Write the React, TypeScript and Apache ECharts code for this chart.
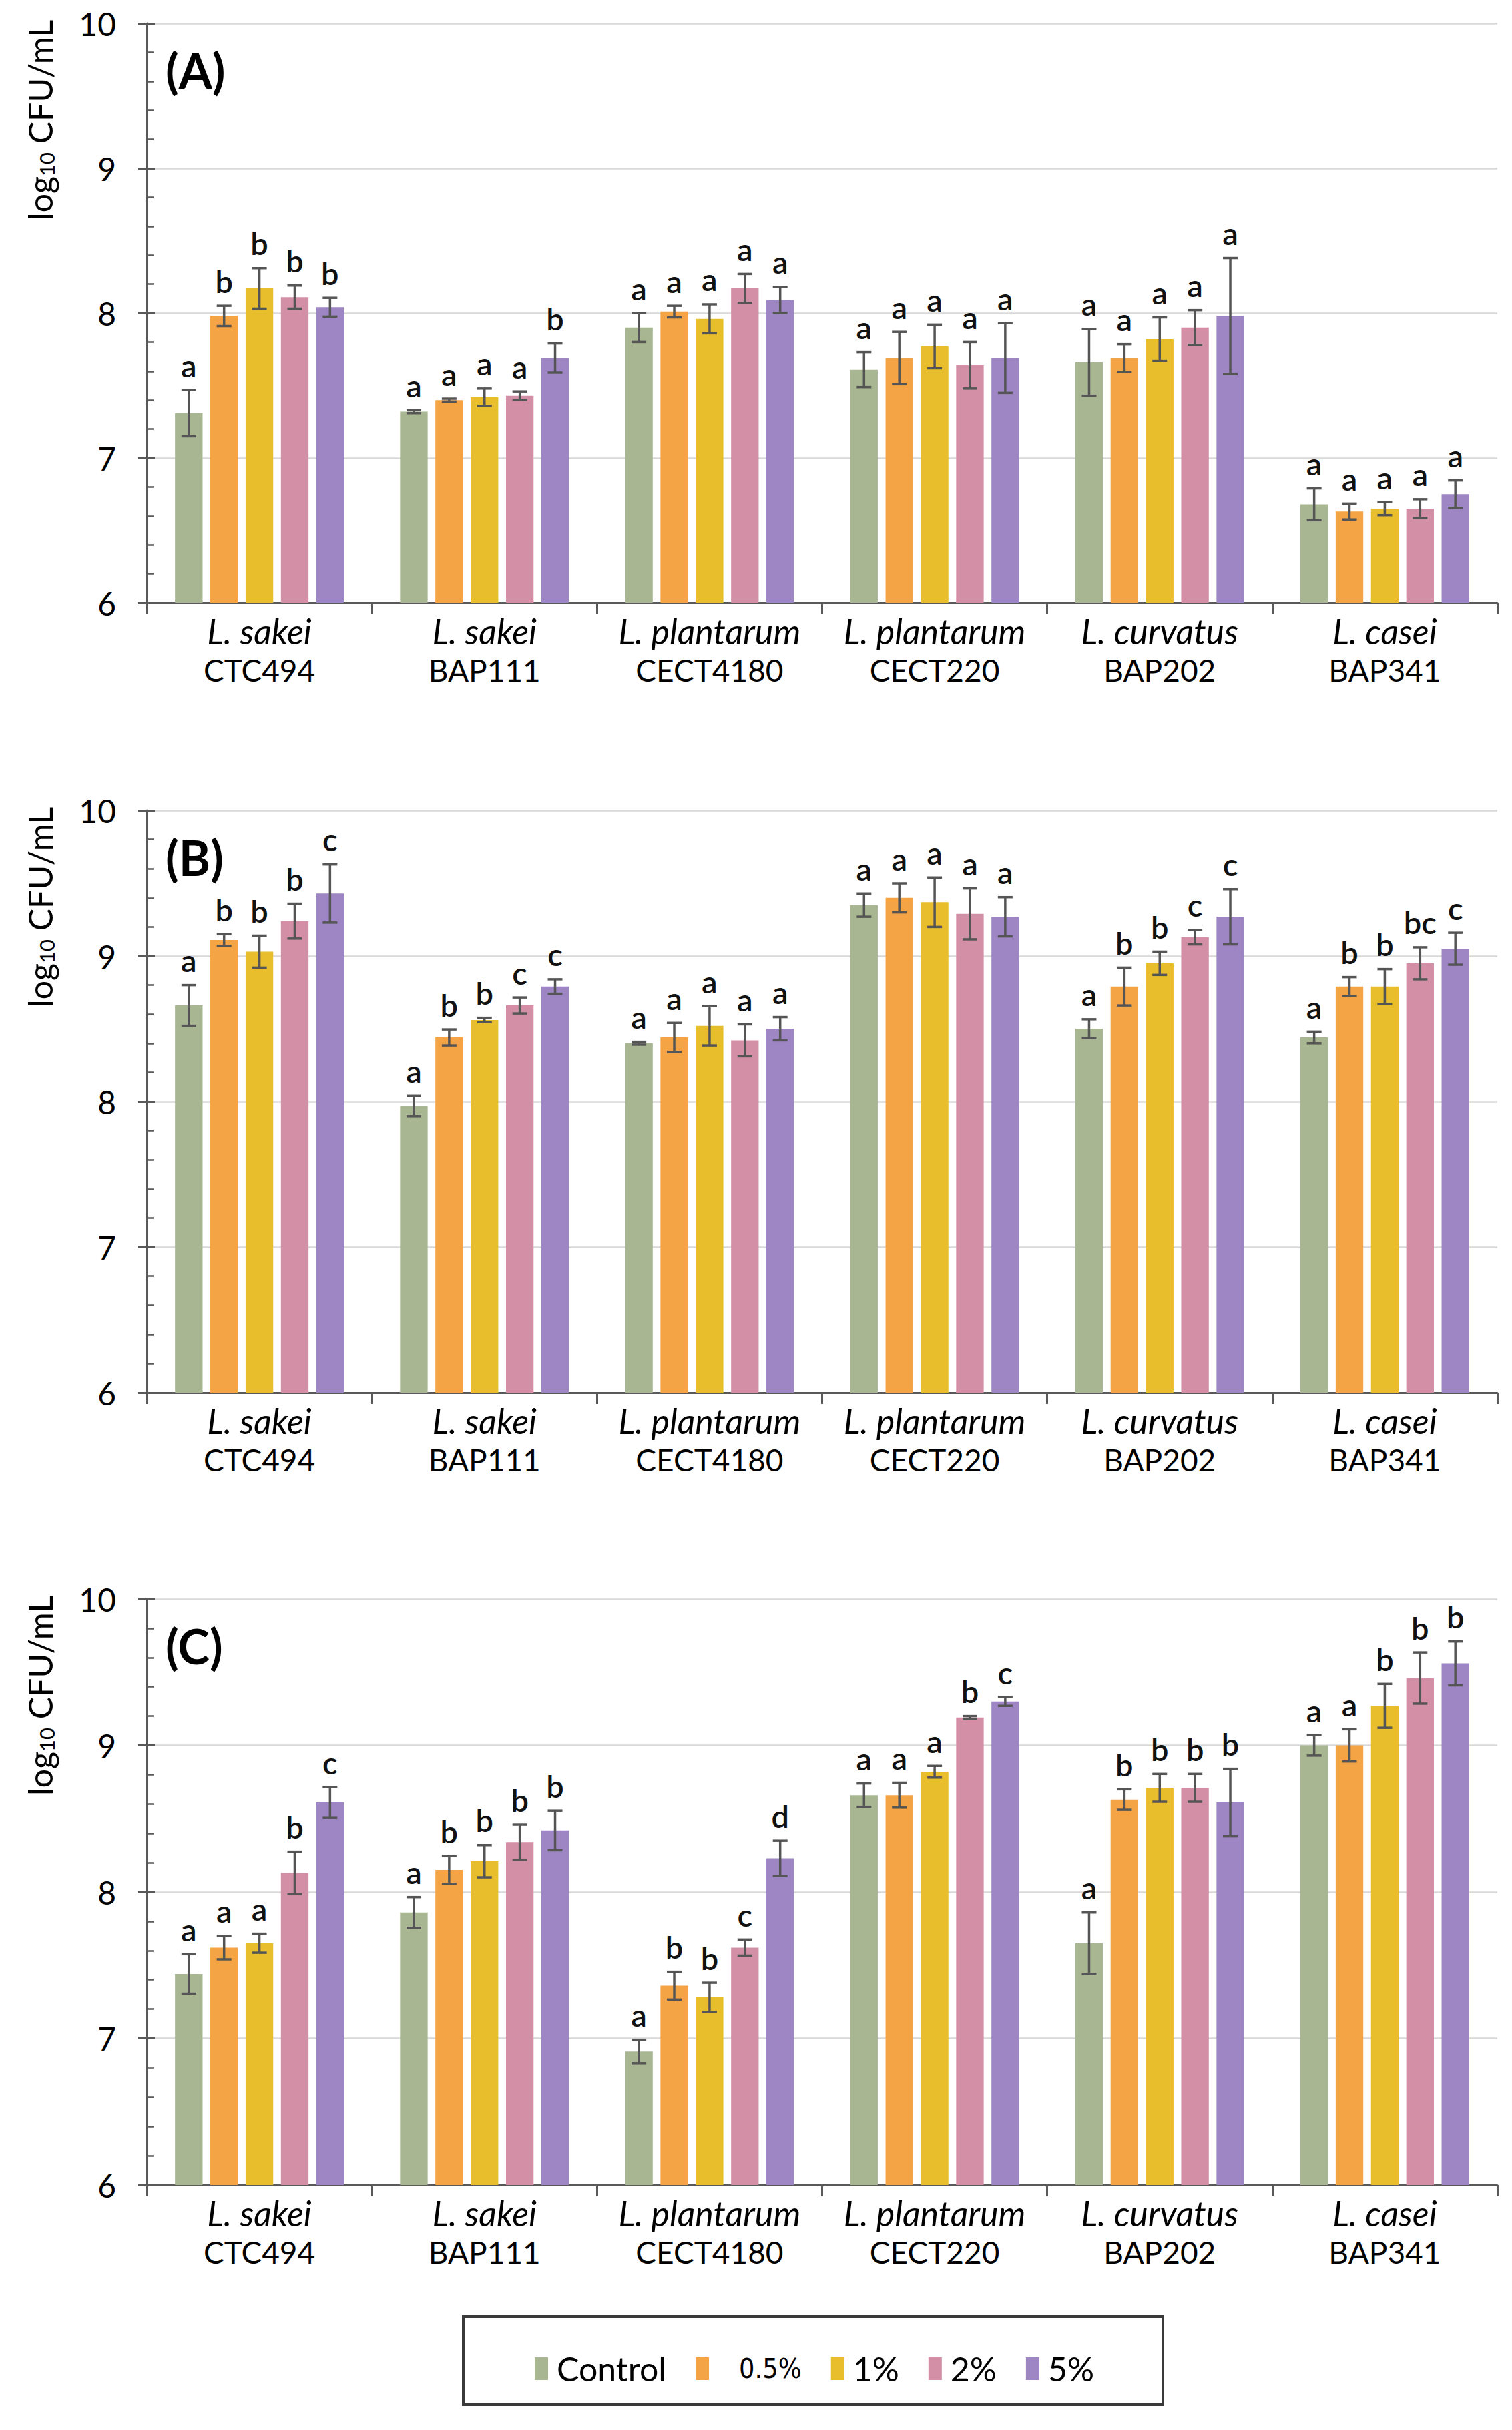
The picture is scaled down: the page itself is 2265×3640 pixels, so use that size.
import React, { useEffect, useRef } from "react";
import * as echarts from "echarts";

const FONT = "Lato, 'Open Sans', sans-serif";
const NARROW_FONT = "'Liberation Sans Narrow', 'DejaVu Sans Condensed', Lato, sans-serif";

const SPECIES = ["L. sakei", "L. sakei", "L. plantarum", "L. plantarum", "L. curvatus", "L. casei"];
const STRAINS = ["CTC494", "BAP111", "CECT4180", "CECT220", "BAP202", "BAP341"];
const TREATMENTS = ["Control", "0.5%", "1%", "2%", "5%"];
const COLORS = ["#A8B792", "#F4A444", "#E8BE2C", "#D38FA6", "#9D86C3"];
const PANEL_LABELS = ["(A)", "(B)", "(C)"];
const Y_TICKS = [6, 7, 8, 9, 10];

// Panel A: rows = treatments, columns = strains
const A_MEANS = [
  [7.31, 7.32, 7.9, 7.61, 7.66, 6.68],
  [7.98, 7.4, 8.01, 7.69, 7.69, 6.63],
  [8.17, 7.42, 7.96, 7.77, 7.82, 6.65],
  [8.11, 7.43, 8.17, 7.64, 7.9, 6.65],
  [8.04, 7.69, 8.09, 7.69, 7.98, 6.75],
];
const A_ERRS = [
  [0.16, 0.01, 0.1, 0.12, 0.23, 0.11],
  [0.07, 0.01, 0.04, 0.18, 0.095, 0.055],
  [0.14, 0.06, 0.1, 0.15, 0.15, 0.045],
  [0.08, 0.03, 0.1, 0.16, 0.12, 0.065],
  [0.065, 0.1, 0.09, 0.24, 0.4, 0.095],
];
const A_LETTERS = [
  ["a", "a", "a", "a", "a", "a"],
  ["b", "a", "a", "a", "a", "a"],
  ["b", "a", "a", "a", "a", "a"],
  ["b", "a", "a", "a", "a", "a"],
  ["b", "b", "a", "a", "a", "a"],
];

// Panel B
const B_MEANS = [
  [8.66, 7.97, 8.4, 9.35, 8.5, 8.44],
  [9.11, 8.44, 8.44, 9.4, 8.79, 8.79],
  [9.03, 8.56, 8.52, 9.37, 8.95, 8.79],
  [9.24, 8.66, 8.42, 9.29, 9.13, 8.95],
  [9.43, 8.79, 8.5, 9.27, 9.27, 9.05],
];
const B_ERRS = [
  [0.14, 0.07, 0.01, 0.08, 0.065, 0.04],
  [0.04, 0.055, 0.1, 0.1, 0.13, 0.065],
  [0.11, 0.015, 0.135, 0.17, 0.08, 0.12],
  [0.12, 0.055, 0.11, 0.175, 0.05, 0.11],
  [0.2, 0.05, 0.08, 0.135, 0.19, 0.11],
];
const B_LETTERS = [
  ["a", "a", "a", "a", "a", "a"],
  ["b", "b", "a", "a", "b", "b"],
  ["b", "b", "a", "a", "b", "b"],
  ["b", "c", "a", "a", "c", "bc"],
  ["c", "c", "a", "a", "c", "c"],
];

// Panel C
const C_MEANS = [
  [7.44, 7.86, 6.91, 8.66, 7.65, 9.0],
  [7.62, 8.15, 7.36, 8.66, 8.63, 9.0],
  [7.65, 8.21, 7.28, 8.82, 8.71, 9.27],
  [8.13, 8.34, 7.62, 9.19, 8.71, 9.46],
  [8.61, 8.42, 8.23, 9.3, 8.61, 9.56],
];
const C_ERRS = [
  [0.135, 0.105, 0.08, 0.08, 0.21, 0.07],
  [0.08, 0.095, 0.095, 0.085, 0.07, 0.11],
  [0.065, 0.11, 0.1, 0.04, 0.095, 0.15],
  [0.145, 0.12, 0.055, 0.01, 0.095, 0.175],
  [0.105, 0.135, 0.12, 0.03, 0.23, 0.15],
];
const C_LETTERS = [
  ["a", "a", "a", "a", "a", "a"],
  ["a", "b", "b", "a", "b", "a"],
  ["a", "b", "b", "a", "b", "b"],
  ["b", "b", "c", "b", "b", "b"],
  ["c", "b", "d", "c", "b", "b"],
];

const PANELS = [
  { means: A_MEANS, errs: A_ERRS, letters: A_LETTERS },
  { means: B_MEANS, errs: B_ERRS, letters: B_LETTERS },
  { means: C_MEANS, errs: C_ERRS, letters: C_LETTERS },
];

const GRIDS = [
  { left: 220, top: 35, width: 2023, height: 868 },
  { left: 220, top: 1214, width: 2023, height: 872 },
  { left: 220, top: 2395, width: 2023, height: 878 },
];

const CAT_GAP = 0.25;
const BAR_GAP = 0.28;
const AXIS_COLOR = "#595959";

function buildOption() {
  const grid = GRIDS.map((g) => ({ ...g, containLabel: false }));
  const xAxis: any[] = [];
  const yAxis: any[] = [];
  const series: any[] = [];
  const graphic: any[] = [];

  PANELS.forEach((panel, p) => {
    xAxis.push({
      type: "category",
      gridIndex: p,
      data: STRAINS.map((s, i) => SPECIES[i] + "|" + s),
      axisLine: { show: true, lineStyle: { color: AXIS_COLOR, width: 3 } },
      axisTick: { show: true, length: 17, lineStyle: { color: AXIS_COLOR, width: 3 } },
      axisLabel: {
        interval: 0,
        margin: 13,
        formatter: (v: string) => {
          const [sp, st] = v.split("|");
          return "{i|" + sp + "}\n{n|" + st + "}";
        },
        rich: {
          i: { fontSize: 52, fontStyle: "italic", fontFamily: FONT, color: "#000", lineHeight: 58 },
          n: { fontSize: 46, fontFamily: FONT, color: "#000", lineHeight: 58 },
        },
      },
      splitLine: { show: false },
    });
    yAxis.push({
      type: "value",
      gridIndex: p,
      min: Y_TICKS[0],
      max: Y_TICKS[Y_TICKS.length - 1],
      interval: 1,
      axisLine: { show: true, lineStyle: { color: AXIS_COLOR, width: 3 } },
      axisTick: { show: true, inside: true, length: 12, lineStyle: { color: AXIS_COLOR, width: 3 } },
      minorTick: { show: true, splitNumber: 5, length: 10, lineStyle: { color: AXIS_COLOR, width: 2.5 } },
      axisLabel: { fontSize: 48, fontFamily: FONT, color: "#000", margin: 46 },
      splitLine: { show: true, lineStyle: { color: "#d9d9d9", width: 2.5 } },
    });

    TREATMENTS.forEach((t, i) => {
      series.push({
        type: "bar",
        name: t,
        xAxisIndex: p,
        yAxisIndex: p,
        data: panel.means[i],
        barCategoryGap: CAT_GAP * 100 + "%",
        barGap: BAR_GAP * 100 + "%",
        itemStyle: { color: COLORS[i] },
        emphasis: { disabled: true },
        z: 2,
      });
    });

    TREATMENTS.forEach((t, i) => {
      series.push({
        type: "custom",
        name: "err-" + p + "-" + i,
        xAxisIndex: p,
        yAxisIndex: p,
        z: 10,
        clip: false,
        data: panel.means[i].map((m, c) => [c, m, panel.errs[i][c]]),
        encode: { x: 0, y: 1 },
        renderItem: (params: any, api: any) => {
          const c = api.value(0);
          const m = api.value(1);
          const e = api.value(2);
          const band = api.size([1, 0])[0];
          const barsW = band * (1 - CAT_GAP);
          const bw = barsW / (5 + 4 * BAR_GAP);
          const offset = -barsW / 2 + i * bw * (1 + BAR_GAP) + bw / 2;
          const top = api.coord([c, m + e]);
          const bot = api.coord([c, m - e]);
          const x = top[0] + offset;
          const cap = 11;
          const ls = { stroke: "#555555", lineWidth: 3.5 };
          const letter = panel.letters[i][params.dataIndex];
          return {
            type: "group",
            children: [
              { type: "line", shape: { x1: x, y1: top[1], x2: x, y2: bot[1] }, style: ls },
              { type: "line", shape: { x1: x - cap, y1: top[1], x2: x + cap, y2: top[1] }, style: ls },
              { type: "line", shape: { x1: x - cap, y1: bot[1], x2: x + cap, y2: bot[1] }, style: ls },
              {
                type: "text",
                x: x,
                y: top[1] - 14,
                style: {
                  text: letter,
                  align: "center",
                  verticalAlign: "bottom",
                  textAlign: "center",
                  textVerticalAlign: "bottom",
                  fontSize: 47,
                  fontWeight: 600,
                  fontFamily: FONT,
                  fill: "#111",
                },
              },
            ],
          };
        },
      });
    });

    const g = GRIDS[p];
    graphic.push({
      type: "text",
      x: 60,
      y: g.top + 145,
      rotation: Math.PI / 2,
      style: {
        text: "{a|log}{s|10}{a| CFU/mL}",
        align: "center",
        verticalAlign: "middle",
        rich: {
          a: { fontSize: 50, fontFamily: FONT, fill: "#000", color: "#000" },
          s: { fontSize: 31, fontFamily: FONT, fill: "#000", color: "#000", verticalAlign: "bottom", padding: [16, 0, 0, 0] },
        },
      },
    });
    graphic.push({
      type: "text",
      x: 248,
      y: g.top + 70,
      style: {
        text: PANEL_LABELS[p],
        align: "left",
        verticalAlign: "middle",
        fontSize: 72,
        fontWeight: "bold",
        fontFamily: FONT,
        fill: "#000",
      },
    });
  });

  // overlay y axes giving outward major ticks (crossing ticks)
  PANELS.forEach((_, p) => {
    yAxis.push({
      type: "value",
      gridIndex: p,
      min: Y_TICKS[0],
      max: Y_TICKS[Y_TICKS.length - 1],
      interval: 1,
      position: "left",
      axisLine: { show: false },
      axisTick: { show: true, inside: false, length: 14, lineStyle: { color: AXIS_COLOR, width: 3 } },
      axisLabel: { show: false },
      splitLine: { show: false },
    });
  });

  graphic.push({
    type: "rect",
    shape: { x: 694, y: 3470, width: 1048, height: 132 },
    style: { fill: "none", stroke: "#3a3a3a", lineWidth: 4 },
  });

  return {
    animation: false,
    backgroundColor: "#ffffff",
    grid,
    xAxis,
    yAxis,
    series,
    graphic,
    legend: {
      data: TREATMENTS,
      left: 796,
      top: 3518,
      icon: "rect",
      itemWidth: 20,
      itemHeight: 34,
      itemGap: 44,
      selectedMode: false,
      formatter: (name: string) => (name === "0.5%" ? "{n|" + name + "}" : "{t|" + name + "}"),
      textStyle: {
        fontSize: 50,
        fontFamily: FONT,
        color: "#000",
        rich: {
          t: { fontSize: 50, fontFamily: FONT, color: "#000", padding: [0, 0, 0, 8] },
          n: { fontSize: 41, fontFamily: NARROW_FONT, color: "#000", padding: [0, 0, 0, 40] },
        },
      },
    },
  };
}

export default function App() {
  const ref = useRef<HTMLDivElement>(null);
  useEffect(() => {
    if (!ref.current) return;
    const chart = echarts.init(ref.current, null, { renderer: "svg" });
    chart.setOption(buildOption());
    return () => chart.dispose();
  }, []);
  return (
    <div
      ref={ref}
      style={{ position: "absolute", left: 0, top: 0, width: 2265, height: 3640, background: "#fff" }}
    />
  );
}
